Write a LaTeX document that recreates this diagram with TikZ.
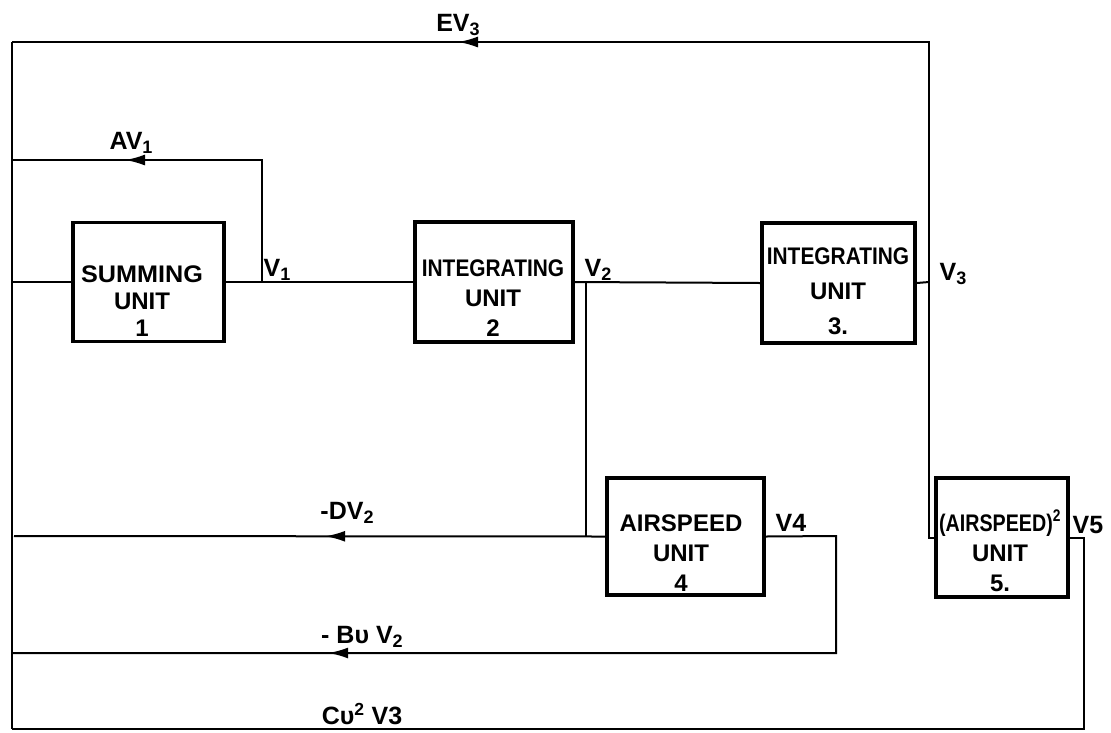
\documentclass[tikz,border=0pt]{standalone}
\usepackage{fontspec}
\setmainfont{Liberation Sans}
\usetikzlibrary{arrows.meta,decorations.markings}
\newcommand\sbs[1]{\raisebox{-4pt}{\fontsize{18}{18}\selectfont #1}}
\begin{document}
\begin{tikzpicture}[x=1pt,y=-1pt,
  box/.style={draw,line width=3.6pt,inner sep=0pt},
  boxtext/.style={font=\fontsize{24}{30}\selectfont\bfseries,align=center,anchor=base,inner sep=0pt},
  lbl/.style={font=\fontsize{25}{27}\selectfont\bfseries,inner sep=0pt},
  wire/.style={line width=2pt,line join=miter},
  fbarrow/.style={postaction={decorate,decoration={markings,
     mark=at position #1 with {\arrow{Latex[length=20pt,width=11pt]}}}}}]
\useasboundingbox (0,0) rectangle (1111,732);

% boxes
\node[box,minimum width=151pt,minimum height=119pt] (s1) at (148.5,282) {};
\node[box,minimum width=158pt,minimum height=120pt] (i2) at (494,282) {};
\node[box,minimum width=153pt,minimum height=120pt] (i3) at (838.5,283) {};
\node[box,minimum width=157pt,minimum height=117pt] (a4) at (685.5,536.5) {};
\node[box,minimum width=132pt,minimum height=119pt] (a5) at (1002,537.5) {};

% box texts (anchor base = baseline of the last line)
\node[boxtext,font=\fontsize{24}{27}\selectfont\bfseries] (s1t) at (142,336) {\scalebox{1.05}[1]{SUMMING}\\UNIT\\1};
\node[boxtext] (i2t) at (493,336) {\scalebox{0.87}[1]{INTEGRATING}\\UNIT\\2};
\node[boxtext,font=\fontsize{24}{35}\selectfont\bfseries] (i3t) at (838,334) {\scalebox{0.87}[1]{INTEGRATING}\\UNIT\\3.};
\node[boxtext] (a4t) at (681,591) {AIRSPEED\\UNIT\\4};
\node[boxtext] (a5t) at (1000,591) {\scalebox{0.82}[1]{(AIRSPEED)\textsuperscript{2}}\\UNIT\\5.};

% junction coordinates
\coordinate (in) at (12,282);
\coordinate (j1) at (262,282);
\coordinate (c1) at (262,160);
\coordinate (b1) at (12,160);
\coordinate (j2) at (586,282);
\coordinate (d2) at (586,536);
\coordinate (b2) at (14,536);
\coordinate (j3) at (929,282);
\coordinate (c3) at (929,42);
\coordinate (b3) at (12,42);
\coordinate (e4) at (836,536);
\coordinate (f4) at (836,653);
\coordinate (b4) at (12,653);
\coordinate (e5) at (1084,537.5);
\coordinate (f5) at (1084,729);
\coordinate (b5) at (12,729);

% forward path
\draw[wire] (in) -- (s1.west);
\draw[wire] (s1.east) -- (i2.west);
\draw[wire] (i2.east) -- (i3.west);
\draw[wire] (i3.east) -- (j3);
% left bus
\draw[wire] (b3) -- (b5);
% feedback loops
\draw[wire,fbarrow=259pt] (j1) -- (c1) -- (b1);
\draw[wire,fbarrow=711pt] (j3) -- (c3) -- (b3);
\draw[wire] (j3) |- (a5.west);
\draw[wire] (j2) -- (d2);
\draw[wire,fbarrow=280pt] (a4.west) -- (b2);
\draw[wire,fbarrow=695pt] (a4.east) -- (e4) -- (f4) -- (b4);
\draw[wire] (a5.east) -- (e5) -- (f5) -- (b5);

% labels
\node[lbl] (lev3) at (458,25) {EV\sbs{3}};
\node[lbl] (lav1) at (131,143) {AV\sbs{1}};
\node[lbl] (lv1) at (277,270) {V\sbs{1}};
\node[lbl] (lv2) at (598,270) {V\sbs{2}};
\node[lbl] (lv3) at (953,274) {V\sbs{3}};
\node[lbl] (lv4) at (791,523) {V4};
\node[lbl] (lv5) at (1088,525) {V5};
\node[lbl] (ldv2) at (347,513) {-DV\sbs{2}};
\node[lbl] (lbv2) at (362,637) {- Bυ V\sbs{2}};
\node[lbl] (lcv3) at (362,714) {Cυ\textsuperscript{2} V3};
\end{tikzpicture}
\end{document}
